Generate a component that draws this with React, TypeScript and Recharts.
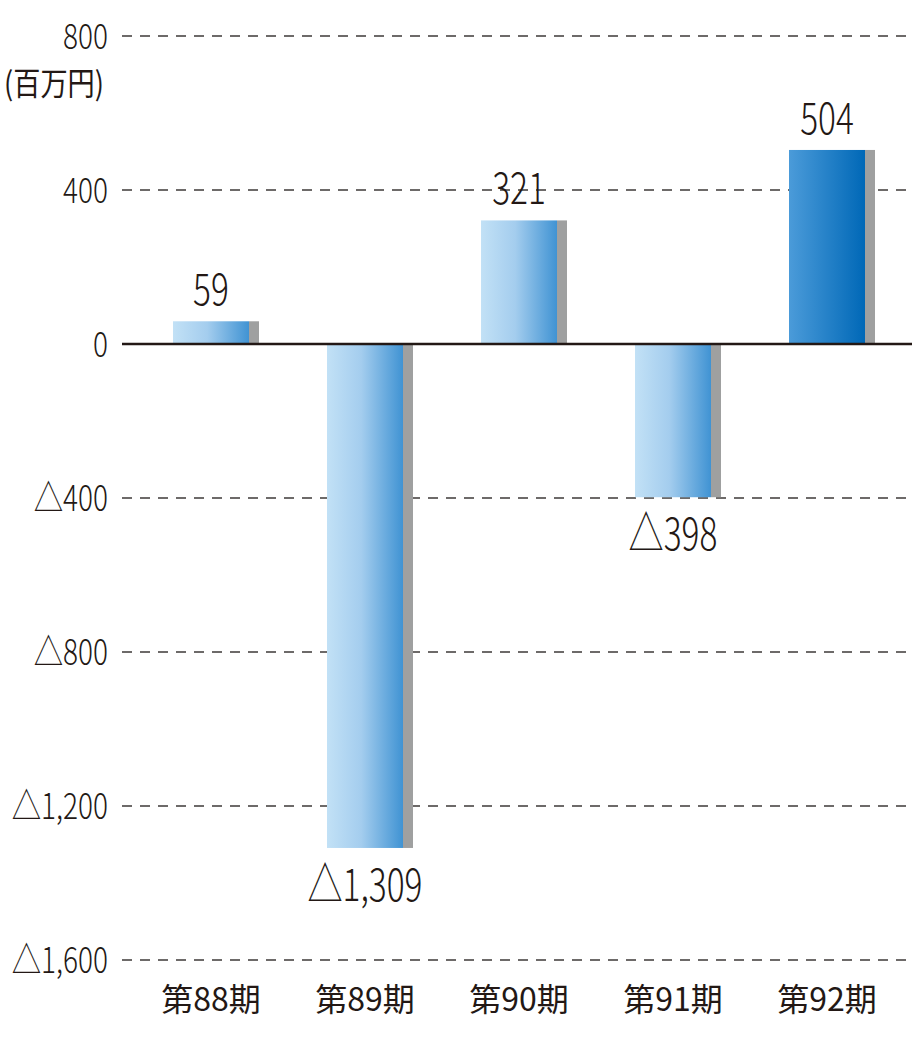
import React from 'react';
import { BarChart, Bar, XAxis, YAxis, CartesianGrid, ReferenceLine } from 'recharts';

const periods = ['第88期', '第89期', '第90期', '第91期', '第92期'];
const profits = [59, -1309, 321, -398, 504];
const yTicks = [800, 400, 0, -400, -800, -1200, -1600];
const unitLabel = '(百万円)';

const data = periods.map((p, i) => ({ period: p, value: profits[i] }));

const TEXT = '#231815';
const CJK_FONT = "'Noto Sans CJK JP', sans-serif";
const NUM_FONT = CJK_FONT;

const fmt = (v: number) => {
  const s = Math.abs(v).toLocaleString('en-US');
  return v < 0 ? '△' + s : s;
};

const NumText = ({ x, y, value, size, anchor, sx }: any) => {
  const s = fmt(value);
  const neg = s.startsWith('△');
  const body = neg ? s.slice(1) : s;
  return (
    <text
      transform={`translate(${x},${y}) scale(${sx},1)`}
      textAnchor={anchor}
      fontSize={size}
      fontFamily={NUM_FONT}
      fontWeight={300}
      fill={TEXT}
    >
      {neg && <tspan fontSize={size * 1.05}>△</tspan>}
      <tspan>{body}</tspan>
    </text>
  );
};

const YTick = (props: any) => {
  const { x, y, payload } = props;
  return <NumText x={x} y={y + 13} value={payload.value} size={35} anchor="end" sx={0.8} />;
};

const XTick = (props: any) => {
  const { x, y, payload } = props;
  return (
    <text
      x={x}
      y={y + 51}
      textAnchor="middle"
      fontSize={32}
      fontFamily={CJK_FONT}
      fontWeight={400}
      fill={TEXT}
    >
      {payload.value}
    </text>
  );
};

const BarShape = (props: any) => {
  const { x, y, width, height, index, payload } = props;
  const top = height < 0 ? y + height : y;
  const h = Math.abs(height);
  const v = payload.value;
  const dark = index === periods.length - 1;
  const gid = `grad-${index}`;
  const cx = x + width / 2;
  const labelY = v >= 0 ? top - 16 : top + h + 53;
  return (
    <g>
      <defs>
        <linearGradient id={gid} x1="0" y1="0" x2="1" y2="0">
          {dark ? (
            <>
              <stop offset="0%" stopColor="#4b9bd9" />
              <stop offset="100%" stopColor="#0068b7" />
            </>
          ) : (
            <>
              <stop offset="0%" stopColor="#c2e1f6" />
              <stop offset="45%" stopColor="#a4cdee" />
              <stop offset="100%" stopColor="#4093d3" />
            </>
          )}
        </linearGradient>
      </defs>
      <rect x={x + width} y={top} width={10} height={h} fill="#9fa0a0" />
      <rect x={x} y={top} width={width} height={h} fill={`url(#${gid})`} />
      <NumText x={cx} y={labelY} value={v} size={44} anchor="middle" sx={0.76} />
    </g>
  );
};

export default function App() {
  return (
    <div style={{ position: 'absolute', left: 0, top: 0, width: 920, height: 1040, background: '#fff' }}>
      <BarChart
        width={920}
        height={1040}
        data={data}
        margin={{ top: 36, right: 8, bottom: 0, left: 0 }}
        barSize={76}
      >
        <CartesianGrid vertical={false} stroke="#3e3a39" strokeWidth={1.5} strokeDasharray="10 8" />
        <XAxis
          dataKey="period"
          axisLine={false}
          tickLine={false}
          tickSize={0}
          tickMargin={0}
          height={80}
          padding={{ left: 12, right: 8 }}
          tick={<XTick />}
          interval={0}
        />
        <YAxis
          type="number"
          domain={[-1600, 800]}
          ticks={yTicks}
          interval={0}
          axisLine={false}
          tickLine={false}
          tickSize={0}
          tickMargin={14}
          width={122}
          tick={<YTick />}
        />
        <Bar dataKey="value" shape={<BarShape />} isAnimationActive={false} />
        <ReferenceLine y={0} stroke={TEXT} strokeWidth={2.5} />
      </BarChart>
      <div
        style={{
          position: 'absolute',
          left: 4,
          top: 65,
          fontFamily: CJK_FONT,
          fontWeight: 400,
          fontSize: 32,
          lineHeight: 1,
          color: TEXT,
          transform: 'scaleX(0.85)',
          transformOrigin: 'left top',
          whiteSpace: 'nowrap',
        }}
      >
        {unitLabel}
      </div>
    </div>
  );
}
